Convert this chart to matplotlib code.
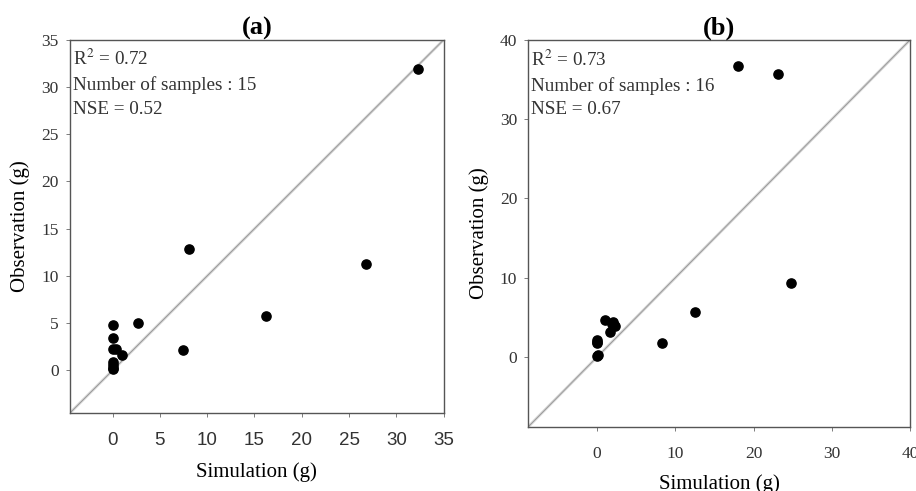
import numpy as np
import matplotlib.pyplot as plt

# panel (a)
sim_a = [8.1, 26.8, 16.2, 7.45, 2.7, 0.0, 0.0, 0.0, 0.35, 0.95, 0.0, 0.0, 0.0, 0.0, 32.3]
obs_a = [12.8, 11.3, 5.8, 2.2, 5.0, 4.85, 3.45, 2.3, 2.3, 1.65, 0.9, 0.55, 0.1, 0.3, 31.9]
stats_a = ["0.72", "15", "0.52"]

# panel (b)
sim_b = [18.0, 23.1, 24.8, 12.5, 8.3, 0.0, 0.0, 0.0, 0.95, 2.0, 2.25, 1.7, 1.9, 0.0, 2.1, 0.1]
obs_b = [36.7, 35.7, 9.35, 5.7, 1.7, 0.1, 2.1, 1.7, 4.7, 4.4, 3.9, 3.15, 4.2, 1.9, 4.0, 0.2]
stats_b = ["0.73", "16", "0.67"]

serif = "Liberation Serif"
sans = "Liberation Sans"

fig = plt.figure(figsize=(9.16, 4.91), dpi=100)
ax1 = fig.add_axes([0.0764, 0.159, 0.408, 0.760])
ax2 = fig.add_axes([0.5768, 0.131, 0.4167, 0.7876])


def panel(ax, sim, obs, stats, lo, hi, ticks, title, xtick_font):
    # 1:1 line, drawn as a soft grey band with a thin core
    ax.plot([lo, hi], [lo, hi], color="#d4d4d4", lw=2.0, zorder=1)
    ax.plot([lo, hi], [lo, hi], color="#8a8a8a", lw=0.5, zorder=2)
    ax.scatter(sim, obs, s=44, color="black", zorder=3)
    ax.set_xlim(lo, hi)
    ax.set_ylim(lo, hi)
    ax.set_xticks(ticks)
    ax.set_yticks(ticks)
    ax.tick_params(direction="out", length=3, width=0.6, color="#666666")
    ax.tick_params(axis="x", pad=11)
    ax.tick_params(axis="y", pad=5)
    for lab in ax.get_yticklabels():
        lab.set_fontfamily(serif)
        lab.set_fontsize(12.5)
        lab.set_color("#333333")
    for lab in ax.get_xticklabels():
        lab.set_fontfamily(xtick_font)
        lab.set_fontsize(13.5 if xtick_font == sans else 12.5)
        lab.set_color("#333333")
    for sp in ax.spines.values():
        sp.set_color("#555555")
        sp.set_linewidth(1.0)
    ax.set_xlabel("Simulation (g)", fontfamily=serif, fontsize=15, labelpad=9)
    ax.set_ylabel("Observation (g)", fontfamily=serif, fontsize=15, labelpad=8)
    ax.set_title(title, fontfamily=serif, fontsize=19, fontweight="bold", pad=2)
    txt = "R$^2$ = %s\nNumber of samples : %s\nNSE = %s" % tuple(stats)
    ax.text(0.008, 0.975, txt, transform=ax.transAxes, va="top", ha="left",
            fontfamily=serif, fontsize=13.8, color="#333333", linespacing=1.5,
            math_fontfamily="stix")


panel(ax1, sim_a, obs_a, stats_a, -4.5, 35, range(0, 36, 5), "(a)", sans)
panel(ax2, sim_b, obs_b, stats_b, -8.8, 40, range(0, 41, 10), "(b)", serif)

fig.savefig("out.png", dpi=100)
